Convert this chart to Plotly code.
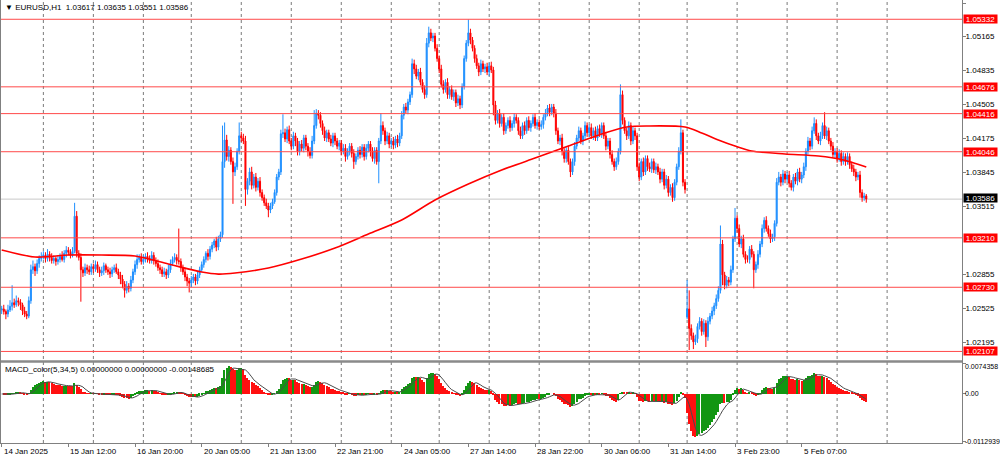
import numpy as np
import plotly.graph_objects as go

# ---------------- data (EURUSD H1, prices in points of 1e-5 above 1.00000) ----------------
close_pts = [
    # 14 Jan (04:00-23:00)
    2520, 2495, 2470, 2510, 2545, 2580, 2560, 2600, 2585, 2560, 2500, 2470, 2450, 2600, 2900, 2930, 2890, 2960, 3010, 3030,
    # 15 Jan
    3040, 3010, 3050, 3020, 2990, 3010, 2980, 3000, 3030, 3000, 3060, 3090, 3070, 3040, 3080, 3420, 3060, 3020, 2900, 2870, 2920, 2900, 2880, 2930,
    # 16 Jan
    2910, 2950, 2900, 2870, 2890, 2940, 2900, 2880, 2860, 2900, 2920, 2880, 2850, 2810, 2760, 2700, 2740, 2720, 2800, 2880, 2950, 3000, 3020, 2980,
    # 17 Jan
    3000, 3030, 3010, 2990, 3040, 2990, 2960, 2920, 2900, 2860, 2880, 2850, 2900, 2960, 3000, 3020, 2990, 2980, 2920, 2880, 2830, 2790, 2770,
    # 20 Jan
    2800, 2830, 2790, 2850, 2900, 2950, 3000, 3060, 3030, 3100, 3140, 3180, 3120, 3200, 3240, 3950, 4160, 4000, 4060, 3950, 3850, 3900, 4050, 4200,
    # 21 Jan
    4180, 4150, 3680, 3760, 3850, 3720, 3800, 3700, 3760, 3650, 3600, 3550, 3520, 3480, 3520, 3560, 3650, 3800, 3850, 4220, 4230, 4170, 4260, 4150,
    # 22 Jan
    4100, 4200, 4150, 4050, 4120, 4080, 4180, 4100, 4050, 4010, 4150, 4300, 4420, 4400, 4320, 4250, 4180, 4230, 4170, 4130, 4200, 4150, 4100, 4130,
    # 23 Jan
    4050, 4080, 4000, 4050, 4100, 4030, 3950, 4000, 4060, 4020, 4090, 4000, 4080, 4120, 4050, 3980, 4060, 3950, 4150, 4300, 4250, 4150, 4200, 4120,
    # 24 Jan
    4150, 4110, 4170, 4130, 4200, 4400, 4480, 4450, 4530, 4600, 4900, 4850, 4780, 4820, 4720, 4650, 4600, 5100, 5200, 5150, 5170, 5050, 4950,
    # 27 Jan
    4850, 4700, 4650, 4720, 4600, 4650, 4580, 4620, 4520, 4560, 4500, 4680, 4950, 5100, 5200, 5130, 5050, 4950, 4880, 4820, 4900, 4850, 4870, 4820,
    # 28 Jan
    4880, 4840, 4500, 4350, 4420, 4320, 4380, 4250, 4300, 4350, 4280, 4320, 4380, 4350, 4250, 4200, 4300, 4250, 4350, 4280, 4320, 4380, 4300, 4330,
    # 29 Jan
    4290, 4310, 4380, 4420, 4470, 4430, 4480, 4420, 4250, 4150, 4180, 4050, 3980, 4060, 3950, 3850, 3950, 4100, 4180, 4250, 4150, 4200, 4300, 4230,
    # 30 Jan
    4280, 4200, 4250, 4180, 4270, 4220, 4300, 4200, 4100, 4150, 4020, 3950, 3900, 3950, 4050, 4600, 4350, 4250, 4200, 4300, 4150, 4250, 4200, 3900,
    # 31 Jan
    3800, 3950, 3850, 3980, 3900, 3880, 3950, 3870, 3900, 3850, 3780, 3850, 3720, 3780, 3650, 3700, 3600, 3750, 3900, 4050, 4230, 3750, 3680,
    # 3 Feb
    2520, 2330, 2260, 2200, 2230, 2350, 2400, 2300, 2380, 2250, 2400, 2450, 2500, 2550, 2620, 2700, 3150, 2850, 2750, 2800, 2780, 2900, 3200, 3400,
    # 4 Feb
    3300, 3150, 3200, 3050, 3000, 3000, 3100, 3050, 2900, 2950, 3050, 3150, 3300, 3380, 3300, 3250, 3200, 3220, 3350, 3750, 3800, 3750, 3830, 3780,
    # 5 Feb
    3820, 3740, 3700, 3800, 3760, 3850, 3780, 3820, 3900, 4050, 4150, 4100, 4250, 4320, 4200, 4150, 4200, 4300, 4200, 4250, 4150, 4100, 4020, 4050,
    # 6 Feb
    3980, 4030, 3950, 4000, 3950, 4000, 3920, 3880, 3850, 3800, 3820, 3650, 3600, 3617, 3586,
]
# wick lengths in pips (0.0001) above max(open, close) and below min(open, close)
wick_up = [
    3, 4, 2, 5, 6, 17, 4, 5, 3, 3, 2, 4, 3, 4, 5, 6, 3, 4, 3, 4,
    4, 3, 5, 3, 4, 3, 2, 4, 3, 5, 3, 4, 3, 3, 4, 13, 5, 3, 4, 3, 4, 3, 4, 3,
    3, 4, 3, 3, 4, 3, 2, 3, 4, 3, 3, 4, 3, 3, 4, 3, 5, 3, 4, 3, 4, 5, 3, 4,
    4, 3, 4, 3, 4, 3, 3, 4, 3, 3, 4, 3, 5, 4, 3, 4, 3, 31, 3, 3, 4, 3, 3,
    4, 3, 3, 4, 3, 3, 3, 2, 4, 3, 3, 2, 4, 3, 3, 35, 17, 5, 4, 3, 4, 4, 3, 13,
    4, 4, 5, 3, 4, 5, 3, 4, 3, 4, 3, 3, 4, 3, 3, 3, 3, 3, 3, 4, 18, 4, 3, 4,
    3, 4, 3, 3, 3, 4, 3, 3, 3, 4, 5, 15, 4, 3, 3, 3, 4, 3, 3, 4, 3, 3, 3, 3,
    3, 4, 4, 3, 3, 3, 4, 3, 3, 4, 3, 3, 4, 3, 3, 4, 3, 3, 3, 12, 4, 3, 4, 3,
    3, 4, 3, 4, 3, 4, 3, 4, 3, 3, 5, 4, 4, 3, 4, 3, 4, 5, 6, 4, 3, 3, 4,
    3, 4, 4, 3, 4, 3, 4, 3, 3, 4, 3, 3, 3, 3, 13, 4, 3, 3, 4, 3, 4, 3, 3, 4,
    3, 4, 3, 4, 3, 4, 3, 4, 3, 3, 4, 3, 4, 3, 3, 4, 3, 4, 3, 4, 3, 3, 4, 3,
    3, 4, 3, 4, 3, 4, 3, 3, 4, 3, 3, 4, 3, 3, 4, 3, 3, 4, 3, 4, 3, 3, 4, 3,
    3, 4, 3, 4, 3, 4, 3, 3, 4, 3, 3, 4, 3, 4, 3, 10, 4, 3, 3, 4, 3, 4, 3, 3,
    4, 3, 4, 3, 3, 4, 3, 3, 4, 3, 4, 3, 3, 4, 3, 3, 4, 3, 3, 4, 13, 3, 3,
    28, 18, 4, 3, 4, 3, 4, 3, 4, 3, 4, 3, 4, 3, 4, 4, 18, 4, 3, 4, 3, 4, 3, 10,
    3, 4, 3, 4, 3, 4, 3, 4, 3, 3, 4, 3, 4, 3, 4, 3, 4, 3, 3, 4, 5, 3, 4, 3,
    3, 4, 3, 3, 4, 3, 4, 3, 4, 3, 4, 3, 4, 6, 4, 3, 4, 3, 13, 4, 3, 3, 4, 3,
    3, 4, 3, 4, 3, 4, 3, 3, 4, 3, 3, 4, 3, 3, 1.8,
]
wick_dn = [
    4, 3, 5, 3, 2, 4, 3, 2, 4, 5, 4, 3, 3, 2, 3, 4, 5, 3, 4, 3,
    3, 4, 3, 4, 3, 3, 4, 3, 3, 2, 3, 4, 3, 3, 2, 2, 4, 3, 31, 4, 3, 4, 3, 3,
    4, 3, 3, 4, 3, 4, 3, 3, 4, 3, 3, 2, 4, 5, 4, 7, 3, 4, 3, 3, 3, 4, 3, 3,
    3, 3, 4, 3, 3, 4, 3, 3, 4, 3, 3, 4, 3, 3, 2, 3, 4, 3, 4, 3, 4, 5, 9,
    4, 3, 4, 3, 3, 2, 3, 3, 4, 3, 3, 3, 4, 3, 3, 3, 6, 4, 5, 3, 31, 4, 3, 3,
    4, 3, 16, 5, 4, 4, 3, 4, 3, 4, 3, 3, 3, 7, 3, 3, 2, 3, 3, 3, 4, 3, 4, 3,
    4, 3, 5, 4, 4, 3, 4, 4, 5, 3, 3, 3, 3, 4, 4, 4, 3, 4, 3, 3, 4, 4, 3, 4,
    4, 3, 5, 3, 4, 4, 7, 3, 3, 4, 3, 4, 3, 4, 5, 3, 5, 3, 21, 3, 4, 4, 3, 4,
    3, 4, 3, 4, 3, 3, 4, 3, 4, 3, 3, 5, 3, 4, 3, 3, 4, 3, 4, 3, 4, 3, 3,
    4, 3, 4, 3, 4, 4, 3, 4, 4, 3, 4, 3, 3, 3, 3, 4, 3, 4, 3, 4, 3, 3, 4, 3,
    4, 3, 10, 4, 3, 4, 3, 4, 3, 3, 4, 3, 4, 3, 4, 3, 3, 4, 3, 3, 4, 3, 3, 4,
    3, 3, 4, 3, 3, 4, 3, 4, 4, 3, 4, 4, 4, 4, 3, 5, 3, 4, 3, 3, 3, 4, 3, 4,
    4, 3, 4, 3, 3, 3, 4, 3, 4, 3, 4, 3, 4, 3, 3, 3, 4, 3, 4, 3, 4, 3, 4, 4,
    4, 3, 4, 3, 4, 3, 4, 3, 4, 3, 4, 3, 4, 3, 4, 3, 4, 3, 3, 3, 3, 4, 4,
    2, 21, 4, 7, 3, 4, 3, 4, 3, 10, 4, 3, 3, 4, 3, 3, 3, 10, 4, 3, 4, 3, 3, 3,
    4, 3, 4, 3, 4, 3, 4, 3, 18, 3, 4, 3, 3, 4, 3, 3, 4, 3, 4, 3, 3, 4, 3, 4,
    3, 4, 3, 4, 3, 4, 3, 4, 3, 4, 3, 4, 3, 3, 4, 3, 4, 3, 3, 4, 3, 4, 3, 4,
    4, 3, 4, 3, 4, 3, 4, 3, 4, 4, 3, 5, 4, 3, 3.5,
]
first_open_pts = 2510
gap_open_pts = {329: 2440}          # Monday 3 Feb opening gap

# red moving average, read at sample bars
ma_bars = [0, 16, 32, 48, 64, 80, 96, 104, 112, 128, 144, 160, 176, 192, 208, 224, 240, 256,
           272, 288, 300, 310, 328, 336, 344, 352, 360, 376, 392, 404, 415]
ma_pts = [3092, 3024, 3043, 3043, 3033, 2956, 2878, 2858, 2868, 2917, 3004, 3111, 3247, 3383,
          3577, 3732, 3868, 3985, 4101, 4218, 4286, 4296, 4286, 4228, 4160, 4101, 4053, 4024,
          4004, 3965, 3897]

level_prices = [1.05332, 1.04676, 1.04416, 1.04046, 1.03210, 1.02730, 1.02107]
current_price = 1.03586
price_ticks = [1.05490, 1.05165, 1.04835, 1.04505, 1.04175, 1.03845, 1.03515,
               1.02855, 1.02525, 1.02195]
macd_ticks = [0.0074358, 0.0, -0.0112939]
macd_tick_text = ["0.0074358", "0.00", "-0.0112939"]

label_bars = [0, 32, 64, 96, 128, 160, 192, 224, 256, 288, 320, 352, 384]
label_text = ["14 Jan 2025", "15 Jan 12:00", "16 Jan 20:00", "20 Jan 05:00", "21 Jan 13:00",
              "22 Jan 21:00", "24 Jan 05:00", "27 Jan 14:00", "28 Jan 22:00", "30 Jan 06:00",
              "31 Jan 14:00", "3 Feb 23:00", "5 Feb 07:00"]
day_start_bars = [20, 44, 68, 91, 115, 139, 163, 187, 210, 234, 258, 282, 306, 329, 353, 377, 401, 425]

header_text = "EURUSD,H1  1.03617 1.03635 1.03551 1.03586"
macd_text = "MACD_color(5,34,5) 0.00000000 0.00000000 -0.00148685"

# ---------------- derived OHLC ----------------
close = 1.0 + np.array(close_pts, dtype=float) / 1e5
opn = np.empty_like(close)
opn[0] = 1.0 + first_open_pts / 1e5
opn[1:] = close[:-1]
for b, v in gap_open_pts.items():
    opn[b] = 1.0 + v / 1e5
high = np.maximum(opn, close) + np.array(wick_up) / 1e4
low = np.minimum(opn, close) - np.array(wick_dn) / 1e4
bars = np.arange(len(close))

# MACD (EMA5 - EMA34, SMA5 signal)
def ema(x, n):
    a = 2.0 / (n + 1)
    out = np.empty_like(x)
    out[0] = x[0]
    for i in range(1, len(x)):
        out[i] = a * x[i] + (1 - a) * out[i - 1]
    return out

macd = ema(close, 5) - ema(close, 34)
signal = np.array([macd[max(0, i - 4):i + 1].mean() for i in range(len(macd))])
hist_colors = ["#129612" if i > 0 and macd[i] >= macd[i - 1] else "#ff1010" for i in range(len(macd))]

# ---------------- figure ----------------
FONT = "Liberation Sans, Arial, sans-serif"
FS = 8
W, H = 1000, 459
ML, MR, MT_, MB = 1, 38, 0, 16
ph = H - MT_ - MB
main_dom = [(ph - 361) / ph, 1.0]
macd_dom = [0.0, (ph - 362) / ph]
x_lo, x_hi = -0.336, 460.95

fig = go.Figure()
fig.add_trace(go.Candlestick(
    x=bars, open=opn, high=high, low=low, close=close,
    increasing=dict(line=dict(color="#1e8fff", width=1), fillcolor="#1e8fff"),
    decreasing=dict(line=dict(color="#ff0000", width=1), fillcolor="#ff0000"),
    whiskerwidth=0, xaxis="x", yaxis="y", showlegend=False, hoverinfo="skip"))
fig.add_trace(go.Scatter(
    x=ma_bars, y=1.0 + np.array(ma_pts) / 1e5, mode="lines",
    line=dict(color="#ff0000", width=1.6, shape="spline", smoothing=0.8),
    xaxis="x", yaxis="y", showlegend=False, hoverinfo="skip"))
fig.add_trace(go.Bar(
    x=bars, y=macd, marker=dict(color=hist_colors, line=dict(width=0)), width=0.6,
    xaxis="x2", yaxis="y2", showlegend=False, hoverinfo="skip"))
fig.add_trace(go.Scatter(
    x=bars, y=signal, mode="lines", line=dict(color="#4a4a4a", width=1),
    xaxis="x2", yaxis="y2", showlegend=False, hoverinfo="skip"))

shapes = []
for d in day_start_bars:
    shapes.append(dict(type="line", xref="x", yref="paper", x0=d, x1=d, y0=0, y1=1,
                       line=dict(color="#7a7a7a", width=1, dash="dot"), layer="below"))
for p in level_prices:
    shapes.append(dict(type="line", xref="paper", yref="y", x0=0, x1=1, y0=p, y1=p,
                       line=dict(color="#ff4a4a", width=1), layer="above"))
shapes.append(dict(type="line", xref="paper", yref="y", x0=0, x1=1, y0=current_price, y1=current_price,
                   line=dict(color="#c8c8c8", width=1), layer="below"))
# panel separator
shapes.append(dict(type="line", xref="paper", yref="paper", x0=0, x1=1,
                   y0=(ph - 361.5) / ph, y1=(ph - 361.5) / ph,
                   line=dict(color="#8a8a8a", width=2.5)))

ann = []
for p in level_prices:
    ann.append(dict(x=1, xref="paper", y=p, yref="y", text=f"{p:.5f}", showarrow=False,
                    xanchor="left", yanchor="middle", xshift=1, bgcolor="#ff0000",
                    width=33, height=8, borderpad=0,
                    font=dict(color="white", size=FS, family=FONT)))
ann.append(dict(x=1, xref="paper", y=current_price, yref="y", text=f"{current_price:.5f}",
                showarrow=False, xanchor="left", yanchor="middle", xshift=1, yshift=1,
                bgcolor="#000000", width=33, height=8, borderpad=0,
                font=dict(color="white", size=FS, family=FONT)))
# MACD scale labels (top value just inside the window, as in the terminal)
macd_label_shift = [-3.5, 0, 0]
for v, t, s in zip(macd_ticks, macd_tick_text, macd_label_shift):
    ann.append(dict(x=1, xref="paper", y=v, yref="y2", text=t, showarrow=False,
                    xanchor="left", yanchor="middle", xshift=1, yshift=s,
                    font=dict(color="black", size=7, family=FONT)))
for b, t in zip(label_bars, label_text):
    ann.append(dict(x=b, xref="x2", y=0, yref="paper", text=t, showarrow=False,
                    xanchor="left", yanchor="top", xshift=0, yshift=-2,
                    font=dict(color="black", size=FS, family=FONT)))
ann.append(dict(x=0, xref="paper", y=1, yref="paper", text="\u25BC " + header_text, showarrow=False,
                xanchor="left", yanchor="top", xshift=2, yshift=-1,
                font=dict(color="black", size=FS, family=FONT)))
ann.append(dict(x=0, xref="paper", y=macd_dom[1], yref="paper", text=macd_text, showarrow=False,
                xanchor="left", yanchor="top", xshift=2, yshift=-1,
                font=dict(color="black", size=FS, family=FONT)))

axis_common = dict(showgrid=False, zeroline=False, showline=True, linecolor="#808080",
                   linewidth=1, mirror=True, automargin=False)
fig.update_layout(
    width=W, height=H, margin=dict(l=ML, r=MR, t=MT_, b=MB, autoexpand=False),
    paper_bgcolor="white", plot_bgcolor="white", bargap=0,
    xaxis=dict(domain=[0, 1], range=[x_lo, x_hi], anchor="y", showticklabels=False,
               rangeslider=dict(visible=False), ticks="", **axis_common),
    xaxis2=dict(domain=[0, 1], range=[x_lo, x_hi], anchor="y2", matches="x",
                tickmode="array", tickvals=label_bars, ticktext=[""] * len(label_bars),
                ticks="outside", ticklen=3, tickcolor="#808080", **axis_common),
    yaxis=dict(domain=main_dom, range=[1.020143, 1.055191], side="right", anchor="x",
               tickmode="array", tickvals=price_ticks, ticktext=[f"{v:.5f}" for v in price_ticks],
               ticks="outside", ticklen=3, tickcolor="#808080", ticklabelstandoff=-2,
               tickfont=dict(size=FS, color="black", family=FONT), **axis_common),
    yaxis2=dict(domain=macd_dom, range=[-0.011774, 0.007676], side="right", anchor="x2",
                tickmode="array", tickvals=macd_ticks, ticktext=[""] * len(macd_ticks),
                ticks="outside", ticklen=3, tickcolor="#808080", **axis_common),
    shapes=shapes, annotations=ann, hovermode=False,
)
fig.write_html("out.html", config={"displayModeBar": False},
               post_script="document.body.style.margin='0';document.body.style.overflow='hidden';")
